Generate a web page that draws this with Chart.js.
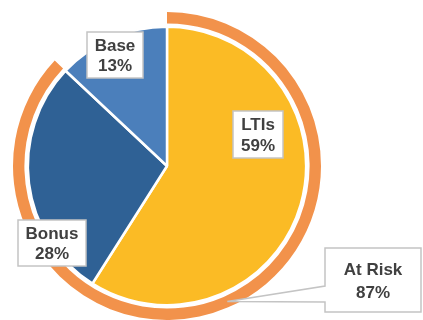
<!DOCTYPE html>
<html>
<head>
<meta charset="utf-8">
<script src="https://cdn.jsdelivr.net/npm/chart.js@4.4.0/dist/chart.umd.min.js"></script>
<style>
  html, body { margin: 0; padding: 0; background: #fff; overflow: hidden; }
  #wrap { position: relative; width: 423px; height: 320px; }
</style>
</head>
<body>
<div id="wrap"><canvas id="pay" width="423" height="320"></canvas></div>
<script>
// pay mix
const mixLabels = ['LTIs', 'Bonus', 'Base'];
const mixValues = [59, 28, 13];
const mixColors = ['#FBBB25', '#2F6195', '#4B7FBB'];

// outer ring: at-risk share vs fixed
const ringLabels = ['At Risk', 'Fixed'];
const ringValues = [87, 13];

// label boxes, relative to the pie centre
const boxes = [
  { i: 0, dx: 66,  dy: -55, w: 50, h: 47 },
  { i: 1, dx: -149, dy: 54, w: 68, h: 46 },
  { i: 2, dx: -80, dy: -134, w: 56, h: 46 }
];

const boxPlugin = {
  id: 'boxes',
  afterDraw(chart) {
    const ctx = chart.ctx;
    const pie = chart.getDatasetMeta(2).data[0];
    const cx = pie.x, cy = pie.y;
    ctx.save();
    ctx.font = 'bold 17px "Liberation Sans", Arial, sans-serif';
    ctx.textAlign = 'center';
    ctx.textBaseline = 'middle';
    ctx.lineWidth = 1.5;
    ctx.strokeStyle = '#c4c4c4';

    boxes.forEach(b => {
      const x = cx + b.dx, y = cy + b.dy;
      ctx.fillStyle = '#fff';
      ctx.fillRect(x, y, b.w, b.h);
      ctx.strokeRect(x, y, b.w, b.h);
      ctx.fillStyle = '#404040';
      ctx.fillText(mixLabels[b.i], x + b.w / 2, y + b.h * 0.31);
      ctx.fillText(mixValues[b.i] + '%', x + b.w / 2, y + b.h * 0.75);
    });

    // callout for the at-risk ring
    const ring = chart.getDatasetMeta(0).data[0];
    const rr = (ring.innerRadius + ring.outerRadius) / 2;
    const a = 156 * Math.PI / 180;
    const tx = cx + rr * Math.sin(a), ty = cy - rr * Math.cos(a);
    const L = 325, T = 248, R = 421, B = 312;
    ctx.beginPath();
    ctx.moveTo(L, T);
    ctx.lineTo(R, T);
    ctx.lineTo(R, B);
    ctx.lineTo(L, B);
    ctx.lineTo(L, 302);
    ctx.lineTo(tx, ty);
    ctx.lineTo(L, 286);
    ctx.closePath();
    ctx.fillStyle = '#fff';
    ctx.fill();
    ctx.stroke();
    ctx.fillStyle = '#404040';
    ctx.fillText(ringLabels[0], (L + R) / 2, 270);
    ctx.fillText(ringValues[0] + '%', (L + R) / 2, 293);
    ctx.restore();
  }
};

new Chart(document.getElementById('pay'), {
  type: 'doughnut',
  data: {
    labels: mixLabels,
    datasets: [
      { data: ringValues, backgroundColor: ['#F2924B', 'rgba(0,0,0,0)'], borderWidth: 0, weight: 11.5 },
      { data: [100], backgroundColor: ['rgba(0,0,0,0)'], borderWidth: 0, weight: 3.5 },
      { data: mixValues, backgroundColor: mixColors, borderColor: '#fff', borderWidth: 2.5, weight: 140.5 }
    ]
  },
  options: {
    responsive: false,
    animation: false,
    cutout: 0,
    layout: { padding: { left: 11, top: 12, right: 100, bottom: -4 } },
    plugins: { legend: { display: false }, tooltip: { enabled: false } }
  },
  plugins: [boxPlugin]
});
</script>
</body>
</html>
